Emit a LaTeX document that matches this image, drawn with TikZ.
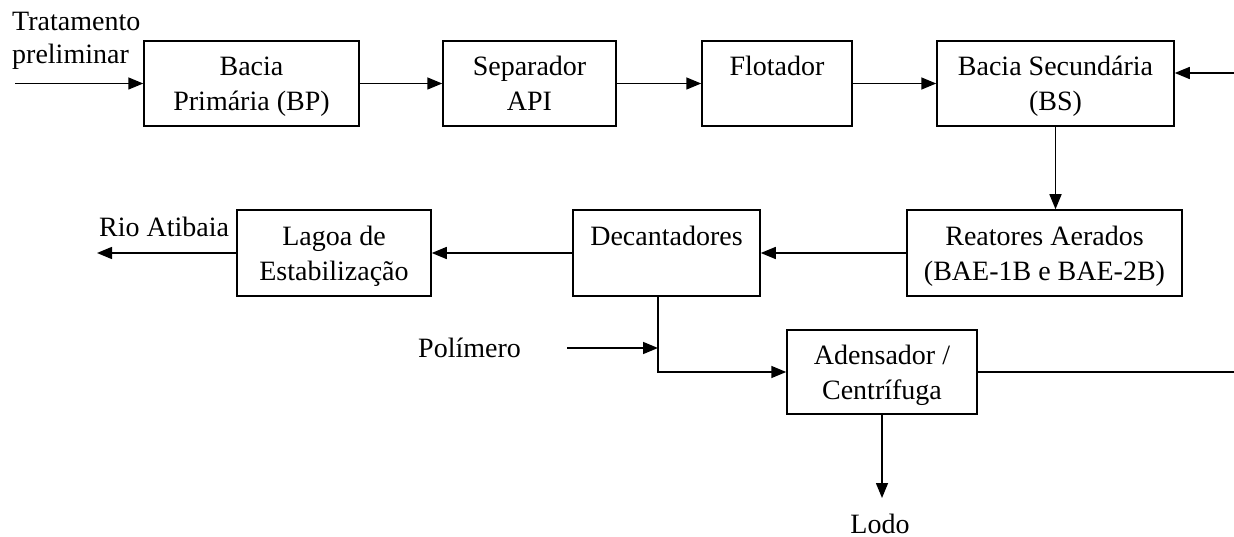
\documentclass[tikz,border=0pt]{standalone}
\usepackage{fontspec}
\setmainfont{Liberation Serif}
\usetikzlibrary{arrows.meta}
\newcommand\firstpad{\rule{0pt}{30.5pt}}
\begin{document}
\begin{tikzpicture}[x=1pt,y=-1pt,
  every node/.style={font=\fontsize{28}{35}\selectfont},
  box/.style={draw,line width=1.5pt,align=center,inner sep=0pt},
  flow/.style={line width=1.5pt,-{Triangle[length=15pt,width=12pt]}},
  plain/.style={line width=1.5pt},
  lbl/.style={inner sep=0pt}]
\useasboundingbox (0,0) rectangle (1234,537);
% top row
\node[box,minimum width=215pt,minimum height=85pt] (bp) at (251.5,83.5) {\firstpad Bacia\\Primária (BP)\strut};
\node[box,minimum width=173pt,minimum height=85pt] (sep) at (529.5,83.5) {\firstpad Separador\\API\strut};
\node[box,minimum width=150pt,minimum height=85pt] (flo) at (777,83.5) {\firstpad Flotador\\\strut};
\node[box,minimum width=237pt,minimum height=85pt] (bs) at (1055.5,83.5) {\firstpad Bacia Secundária\\(BS)\strut};
% middle row
\node[box,minimum width=194pt,minimum height=86pt] (lag) at (334,253) {\firstpad Lagoa de\\Estabilização\strut};
\node[box,minimum width=187pt,minimum height=86pt] (dec) at (666.5,253) {\firstpad Decantadores\\\strut};
\node[box,minimum width=275pt,minimum height=86pt] (rea) at (1044.5,253) {\firstpad Reatores Aerados\\(BAE-1B e BAE-2B)\strut};
% bottom
\node[box,minimum width=190pt,minimum height=84pt] (ad) at (882,372) {\firstpad Adensador /\\Centrífuga\strut};
% labels
\node[lbl,anchor=north west,align=left,font=\fontsize{28}{33}\selectfont] (trat) at (12,12) {Tratamento\\preliminar};
\node[lbl,anchor=base west] (rio) at (99,237) {Rio Atibaia};
\node[lbl,anchor=west] (pol) at (418,348) {Polímero};
\node[lbl,anchor=base,text depth=0pt] (lodo) at (880,533) {Lodo};
% coordinates
\coordinate (in) at (15,83.5);
\coordinate (rin) at (1234,73);
\coordinate (out) at (97,253);
\coordinate (dj) at (658,372);
\coordinate (pst) at (567,348);
\coordinate (pj) at (658,348);
\coordinate (rout) at (1234,372);
\coordinate (lodoend) at (882,498);
% connectors
\draw[flow] (in) -- (bp.west);
\draw[flow] (bp) -- (sep);
\draw[flow] (sep) -- (flo);
\draw[flow] (flo) -- (bs);
\draw[flow] (rin) -- (rin -| bs.east);
\draw[flow] (bs.south) -- (bs.south |- rea.north);
\draw[flow] (rea) -- (dec);
\draw[flow] (dec) -- (lag);
\draw[flow] (lag.west) -- (out);
\draw[flow] (dec.south -| dj) -- (dj) -- (ad.west);
\draw[flow] (pst) -- (pj);
\draw[plain] (ad.east) -- (rout);
\draw[flow] (ad.south) -- (lodoend);
\end{tikzpicture}
\end{document}
